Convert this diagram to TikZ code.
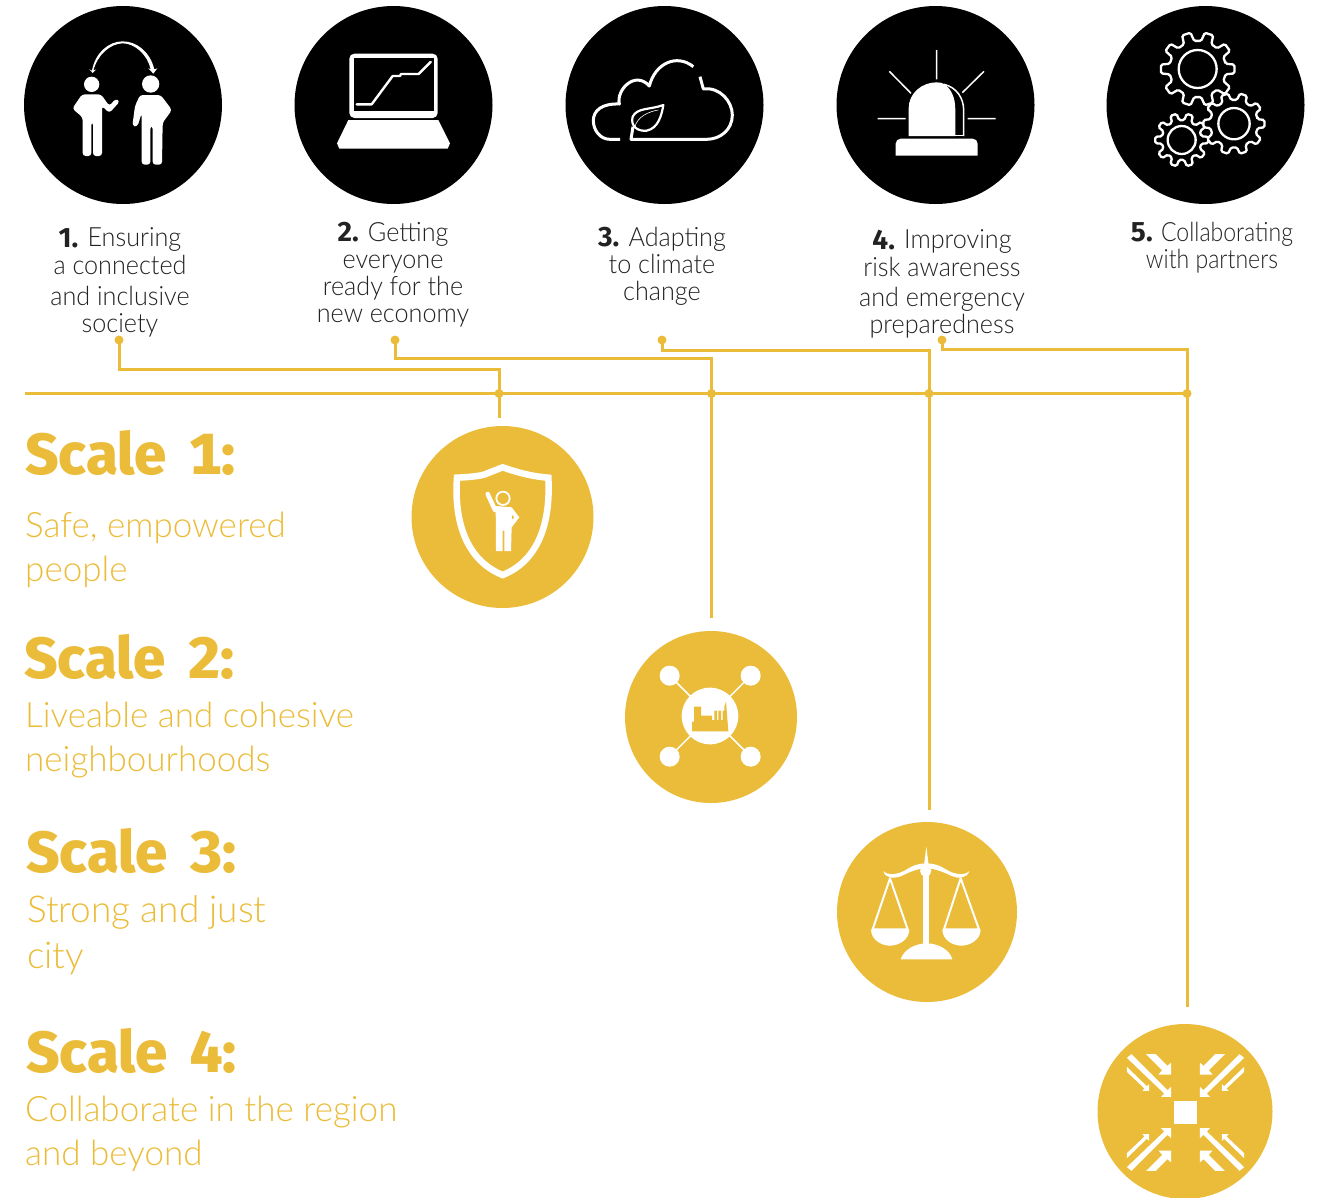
\documentclass[tikz,border=0pt]{standalone}
\usepackage{fontspec}
\setmainfont{Lato}
\newfontfamily\toplight[FakeStretch=0.95]{Lato Light}
\newfontfamily\topnarrow[FakeStretch=0.87]{Lato Light}
\newfontfamily\topbold{Fira Sans Bold}
\newfontfamily\goldlight{Lato Light}
\newfontfamily\goldbold[Numbers={Tabular,Lining},WordSpace=1.7]{Fira Sans ExtraBold}
\definecolor{gold}{HTML}{EBBC3A}
\definecolor{ink}{HTML}{222222}
\tikzset{
  zoomed/.style 2 args={shift={(#1pt,-#2pt)},x=0.33333pt,y=-0.33333pt},
  disc/.style={circle,inner sep=0pt,minimum size=#1},
  blackdisc/.style={disc=198pt,fill=black},
  golddisc/.style={disc=#1,fill=gold},
  link/.style={draw=gold,line width=3pt},
  jdot/.style={circle,inner sep=0pt,minimum size=9pt,fill=gold},
  toplabel/.style={align=center,text=ink,font=\toplight\fontsize{26.5}{27}\selectfont,anchor=base,inner sep=0pt},
  scalehead/.style={anchor=base west,inner sep=0pt,text=gold,font=\goldbold\fontsize{58}{60}\selectfont},
  scaletext/.style={anchor=base west,inner sep=0pt,align=left,text=gold,font=\goldlight\fontsize{35}{44}\selectfont},
  gearline/.style={draw=white,fill=black,line width=2.3pt,rounded corners=1.5pt},
}
\newcommand{\numlab}[1]{{\topbold\fontsize{28}{27}\selectfont #1}}
\newcommand{\gearicon}[6]{% cx cy router rroot rhole teeth
  \begin{scope}[shift={(#1,#2)}]
    \pgfmathsetmacro{\gp}{360/#6}
    \pgfmathsetmacro{\gw}{\gp*0.19}
    \pgfmathsetmacro{\gv}{\gp*0.30}
    \draw[gearline] (-\gv:#4)
      \foreach \k in {1,...,#6} { -- ({(\k-1)*\gp-\gw}:#3) -- ({(\k-1)*\gp+\gw}:#3) -- ({(\k-1)*\gp+\gv}:#4) -- ({\k*\gp-\gv}:#4) } -- cycle;
    \draw[draw=white,line width=2.3pt] (0,0) circle (#5);
  \end{scope}}
\newcommand{\arrowquad}{%
  \fill[white] (-162,-175) -- (-54,-67) -- (-43,-77) -- (-43,-47) -- (-73,-47) -- (-64,-57) -- (-176,-164) -- cycle;
  \fill[white] (-118,-175) -- (-89,-175) -- (-54,-140) -- (-43,-150) -- (-43,-114) -- (-81,-114) -- (-70,-127) -- cycle;
  \fill[white] (-176,-137) -- (-116,-79) -- (-109,-85) -- (-109,-65) -- (-129,-65) -- (-123,-72) -- (-176,-122) -- cycle;
}
\begin{document}
\begin{tikzpicture}[x=1pt,y=-1pt]
\useasboundingbox (0,0) rectangle (1333,1197);
% top discs
\node[blackdisc] (b1) at (123,105) {};
\node[blackdisc] (b2) at (393.5,105) {};
\node[blackdisc] (b3) at (664.5,105) {};
\node[blackdisc] (b4) at (935.5,105) {};
\node[blackdisc] (b5) at (1205.5,105) {};
% people icon
\begin{scope}[zoomed={20}{0}]
  \fill[white] (208,208) -- (218,219) -- (229,208) -- (220,212) .. controls (232,165) and (270,131) .. (308,130) .. controls (345,130) and (383,165) .. (392,208) -- (385,205) -- (400,221) -- (412,205) -- (403,208) .. controls (390,155) and (350,124) .. (308,124) .. controls (265,124) and (225,160) .. (216,212) -- cycle;
  \fill[white] (215,253) circle (23);
  \fill[white,rounded corners=3pt] (186,283) -- (243,283) -- (268,318) -- (287,296) -- (300,304) -- (268,339) -- (246,318) -- (246,468) -- (219,468) -- (219,366) -- (214,366) -- (214,468) -- (188,468) -- (188,352) -- (157,326) -- cycle;
  \fill[white] (392,252) circle (26);
  \fill[white,rounded corners=3pt] (360,285) -- (422,285) -- (456,330) -- (428,368) -- (426,494) -- (398,494) -- (398,378) -- (391,378) -- (391,494) -- (365,494) -- (365,340) -- (352,380) -- (337,378) -- (345,318) -- cycle;
  % laptop
  \fill[white,rounded corners=5pt] (988,161) rectangle (1253,354);
  \fill[black] (1002,175) rectangle (1241,332);
  \draw[white,line width=2.4pt,line join=round,line cap=round] (1010,313) -- (1055,313) -- (1118,228) -- (1140,228) -- (1143,222) -- (1196,222) -- (1232,186);
  \fill[white] (985,360) -- (1255,360) -- (1290,430) -- (1283,446) -- (958,446) -- (951,430) -- cycle;
\end{scope}
% cloud icon and alarm
\begin{scope}[zoomed={560}{0}]
  \draw[white,line width=3pt,line join=round] (180,418) -- (150,418) .. controls (120,418) and (100,390) .. (100,362) .. controls (100,332) and (125,310) .. (178,312) .. controls (168,270) and (225,210) .. (268,258) .. controls (285,190) and (350,160) .. (400,200);
  \draw[white,line width=3pt,line join=round] (420,230) -- (430,267) .. controls (480,260) and (517,305) .. (517,345) .. controls (517,390) and (480,418) .. (440,418) -- (213,418) -- (219,380);
  \draw[white,line width=2.2pt,line join=round] (310,315) .. controls (270,330) and (232,322) .. (218,350) .. controls (210,380) and (235,395) .. (260,392) .. controls (295,385) and (305,345) .. (310,315) -- cycle;
  \draw[white,line width=0.6pt] (224,382) .. controls (232,350) and (265,335) .. (295,330);
  % alarm
  \draw[white,line width=1.5pt] (1130,150) -- (1130,238) (988,214) -- (1053,280) (1272,214) -- (1207,278) (953,356) -- (1037,356) (1223,356) -- (1307,356);
  \fill[white] (1046,408) -- (1046,325) .. controls (1046,280) and (1085,247) .. (1130,247) .. controls (1140,247) and (1148,249) .. (1152,252) .. controls (1172,265) and (1186,290) .. (1186,330) -- (1186,408) -- cycle;
  \draw[white,line width=1.5pt] (1152,253) .. controls (1190,262) and (1211,295) .. (1211,330) -- (1211,408);
  \fill[white] (1186,404) rectangle (1213,408);
  \fill[white] (1007,467) {[rounded corners=5pt] -- (1007,416) -- (1253,416)} -- (1253,467) -- cycle;
\end{scope}
% gears
\begin{scope}[zoomed={1100}{0}]
  \gearicon{293}{207}{111}{85}{57}{10}
  \gearicon{245}{420}{80}{60}{42}{10}
  \gearicon{402}{371}{92}{72}{47}{10}
\end{scope}
% labels
\node[toplabel] (l1) at (120,332) {\numlab{1.} \raisebox{1pt}{Ensuring}\\a connected\\[4pt]and inclusive\\society};
\node[toplabel] (l2) at (393,322) {\numlab{2.} Getting\\everyone\\ready for the\\new economy};
\node[toplabel] (l3) at (662,300) {\numlab{3.} Adapting\\to climate\\change};
\node[toplabel] (l4) at (942,333) {\numlab{4.} \raisebox{1pt}{Improving}\\[0pt]risk awareness\\[3pt]and emergency\\preparedness};
\node[toplabel,font=\topnarrow\fontsize{26.5}{27}\selectfont] (l5) at (1212,268) {\numlab{5.} Collaborating\\with partners};
% gold discs
\node[golddisc=182pt] (g1) at (502.5,517) {};
\node[golddisc=172pt] (g2) at (711,717) {};
\node[golddisc=180pt] (g3) at (927,912) {};
\node[golddisc=175pt] (g4) at (1185,1111.5) {};
% connectors
\node[jdot] (d1) at (119,340) {};
\node[jdot] (d2) at (395,340) {};
\node[jdot] (d3) at (662,340) {};
\node[jdot] (d4) at (942,340) {};
\node[jdot] (j1) at (499,393.5) {};
\node[jdot] (j2) at (711.5,393.5) {};
\node[jdot] (j3) at (929,393.5) {};
\node[jdot] (j4) at (1187,393.5) {};
\coordinate (m0) at (25,393.5);
\coordinate (k1) at (499,369);
\coordinate (k2) at (711.5,358);
\coordinate (k3) at (929,350);
\coordinate (k4) at (1187,349);
\coordinate (e1) at (499,418);
\coordinate (e2) at (711.5,618);
\coordinate (e3) at (929,810);
\coordinate (e4) at (1187,1007);
\draw[link] (m0) -- (j1.center) -- (j2.center) -- (j3.center) -- (j4.center);
\draw[link] (d1.center) |- (k1) -- (j1.center) -- (e1);
\draw[link] (d2.center) |- (k2) -- (j2.center) -- (e2);
\draw[link] (d3.center) |- (k3) -- (j3.center) -- (e3);
\draw[link] (d4.center) |- (k4) -- (j4.center) -- (e4);
% scale headings
\node[scalehead] (s1) at (25,474) {Scale 1:};
\node[scaletext] (t1) at (25,581) {Safe, empowered\\people};
\node[scalehead] (s2) at (24,678) {Scale 2:};
\node[scaletext] (t2) at (25,771) {Liveable and cohesive\\neighbourhoods};
\node[scalehead] (s3) at (26,872) {Scale 3:};
\node[scaletext,font=\goldlight\fontsize{37}{46}\selectfont] (t3) at (27,968) {Strong and just\\city};
\node[scalehead] (s4) at (26,1072) {Scale 4:};
\node[scaletext] (t4) at (25,1165) {Collaborate in the region\\and beyond};
% gold icons
\begin{scope}[zoomed={400}{420}]
  % shield
  \draw[white,line width=6.5pt,line join=miter] (171,173) .. controls (215,171) and (250,167) .. (262,160) -- (308,142) .. controls (350,157) and (400,170) .. (445,173) .. controls (452,300) and (420,420) .. (308,465) .. controls (196,420) and (162,300) .. (171,173) -- cycle;
  \draw[white,line width=1.8pt] (309,235) circle (20);
  \draw[white,line width=4.5pt,line cap=round] (263,222) -- (285,270);
  \fill[white] (287,258) -- (335,262) -- (358,292) -- (335,322) -- (333,393) -- (313,393) -- (313,332) -- (308,332) -- (308,393) -- (288,393) -- cycle;
  \fill[gold] (343,292) -- (336,285) -- (336,298) -- cycle;
  % network
  \draw[white,line width=1.5pt] (809,767) -- (1052,1010) (1052,767) -- (809,1010);
  \fill[white] (930,888) circle (85);
  \foreach \qx/\qy in {809/767,1052/767,809/1010,1052/1010} \fill[white] (\qx,\qy) circle (30);
  \fill[gold] (876,934) -- (876,905) -- (882,905) -- (882,860) -- (903,860) -- (903,887) -- (936,887) -- (936,900) -- (943,900) -- (943,872) -- (951,872) -- (951,900) -- (955,900) -- (955,872) -- (963,872) -- (963,900) -- (968,900) -- (968,872) -- (973,872) -- (973,860) -- (978,845) -- (985,934) -- cycle;
\end{scope}
\begin{scope}[zoomed={830}{815}]
  \fill[white] (289,95) -- (282,150) -- (296,150) -- cycle;
  \fill[white] (160,168) .. controls (172,182) and (205,180) .. (232,162) .. controls (250,150) and (270,145) .. (289,145) .. controls (308,145) and (328,150) .. (346,162) .. controls (373,180) and (406,182) .. (418,168) .. controls (412,190) and (385,192) .. (365,183) .. controls (340,170) and (310,160) .. (289,160) .. controls (265,160) and (240,170) .. (215,183) .. controls (190,192) and (165,190) .. (160,168) -- cycle;
  \fill[white] (287,168) circle (17);
  \fill[white] (280,168) rectangle (298,390);
  \fill[white] (212,433) .. controls (220,405) and (255,385) .. (290,385) .. controls (325,385) and (360,405) .. (367,433) -- cycle;
  \draw[white,line width=2pt,line join=round] (128,343) -- (180,190) -- (233,343) -- cycle;
  \draw[white,line width=2pt,line join=round] (342,343) -- (392,190) -- (447,343) -- cycle;
  \fill[white] (123,343) .. controls (123,375) and (155,392) .. (180,392) .. controls (205,392) and (238,375) .. (238,343) -- cycle;
  \fill[white] (337,343) .. controls (337,375) and (369,392) .. (394,392) .. controls (419,392) and (452,375) .. (452,343) -- cycle;
\end{scope}
\begin{scope}[zoomed={1090}{1015}]
  \fill[white] (252,258) rectangle (321,327);
  \begin{scope}[shift={(286.5,292.5)}]
    \arrowquad
    \begin{scope}[xscale=-1]\arrowquad\end{scope}
    \begin{scope}[yscale=-1]\arrowquad\end{scope}
    \begin{scope}[xscale=-1,yscale=-1]\arrowquad\end{scope}
  \end{scope}
\end{scope}
\end{tikzpicture}
\end{document}
